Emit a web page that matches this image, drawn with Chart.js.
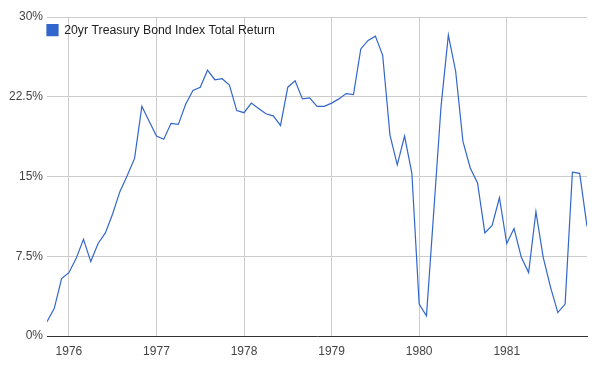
<!DOCTYPE html>
<html>
<head>
<meta charset="utf-8">
<script src="https://cdn.jsdelivr.net/npm/chart.js@4"></script>
<style>
  body { margin: 0; background: #fff; }
  canvas { display: block; }
</style>
</head>
<body>
<canvas id="chart" width="598" height="367"></canvas>
<script>
const months = [
    '1975-10', '1975-11', '1975-12',
    '1976-01', '1976-02', '1976-03', '1976-04', '1976-05', '1976-06', '1976-07', '1976-08', '1976-09', '1976-10', '1976-11', '1976-12',
    '1977-01', '1977-02', '1977-03', '1977-04', '1977-05', '1977-06', '1977-07', '1977-08', '1977-09', '1977-10', '1977-11', '1977-12',
    '1978-01', '1978-02', '1978-03', '1978-04', '1978-05', '1978-06', '1978-07', '1978-08', '1978-09', '1978-10', '1978-11', '1978-12',
    '1979-01', '1979-02', '1979-03', '1979-04', '1979-05', '1979-06', '1979-07', '1979-08', '1979-09', '1979-10', '1979-11', '1979-12',
    '1980-01', '1980-02', '1980-03', '1980-04', '1980-05', '1980-06', '1980-07', '1980-08', '1980-09', '1980-10', '1980-11', '1980-12',
    '1981-01', '1981-02', '1981-03', '1981-04', '1981-05', '1981-06', '1981-07', '1981-08', '1981-09', '1981-10', '1981-11', '1981-12'
];

// total return, percent
const totalReturn = [
    1.35, 2.6, 5.4,
    5.95, 7.3, 9.1, 7.0, 8.7, 9.7, 11.5, 13.6, 15.1, 16.7, 21.6, 20.2,
    18.8, 18.5, 20.0, 19.9, 21.8, 23.1, 23.4, 25.0, 24.1, 24.2, 23.6, 21.2,
    21.0, 21.9, 21.4, 20.9, 20.7, 19.8, 23.4, 24.0, 22.3, 22.4, 21.6, 21.6,
    21.9, 22.3, 22.8, 22.7, 27.0, 27.8, 28.2, 26.4, 18.9, 16.1, 18.8, 15.3,
    3.0, 1.9, 11.7, 21.6, 28.3, 24.9, 18.3, 15.8, 14.4, 9.7, 10.4, 13.0,
    8.7, 10.1, 7.4, 5.96, 11.7, 7.4, 4.6, 2.2, 3.0, 15.4, 15.3, 10.3
];

const yearTicks = [1976, 1977, 1978, 1979, 1980, 1981];
const percentTicks = [0, 7.5, 15, 22.5, 30];

const seriesName = '20yr Treasury Bond Index Total Return';

// month string -> fractional year
function toYear(m) {
    const parts = m.split('-');
    return Number(parts[0]) + (Number(parts[1]) - 1) / 12;
}

const points = months.map((m, i) => ({ x: toYear(m), y: totalReturn[i] }));

const fontFamily = 'Arial, "Liberation Sans", sans-serif';
const tickFont = { family: fontFamily, size: 12 };
const legendFont = { family: fontFamily, size: 12.3 };

// legend sits inside the plot, nudge it into the top left corner
const legendNudge = {
    id: 'legendNudge',
    afterLayout(chart) {
        chart.legend.left -= 6;
        chart.legend.top += 18;
    }
};

new Chart(document.getElementById('chart').getContext('2d'), {
    type: 'line',
    data: {
        datasets: [{
            label: seriesName,
            data: points,
            borderColor: '#3366cc',
            backgroundColor: '#3366cc',
            borderWidth: 1.2,
            pointRadius: 0,
            tension: 0,
            fill: false
        }]
    },
    options: {
        responsive: false,
        animation: false,
        layout: { padding: { top: 17, right: 11, left: 0, bottom: 0 } },
        plugins: {
            legend: {
                position: 'chartArea',
                align: 'start',
                labels: {
                    boxWidth: 11,
                    boxHeight: 11,
                    padding: 6,
                    color: '#222',
                    font: legendFont
                }
            },
            tooltip: { enabled: false }
        },
        scales: {
            x: {
                type: 'linear',
                min: toYear(months[0]),
                max: toYear(months[months.length - 1]),
                afterBuildTicks: scale => { scale.ticks = yearTicks.map(v => ({ value: v })); },
                afterFit: scale => { scale.height = 31; },
                ticks: {
                    color: '#444',
                    font: tickFont,
                    padding: 8,
                    autoSkip: false,
                    maxRotation: 0,
                    callback: v => String(v)
                },
                grid: { color: '#cccccc', drawTicks: false },
                border: { display: true, color: '#333333', width: 1 }
            },
            y: {
                min: 0,
                max: 30,
                afterBuildTicks: scale => { scale.ticks = percentTicks.map(v => ({ value: v })); },
                afterFit: scale => { scale.width = 47; },
                ticks: {
                    color: '#444',
                    font: tickFont,
                    padding: 4,
                    callback: v => v + '%'
                },
                grid: { color: '#cccccc', drawTicks: false },
                border: { display: false }
            }
        }
    },
    plugins: [legendNudge]
});
</script>
</body>
</html>
